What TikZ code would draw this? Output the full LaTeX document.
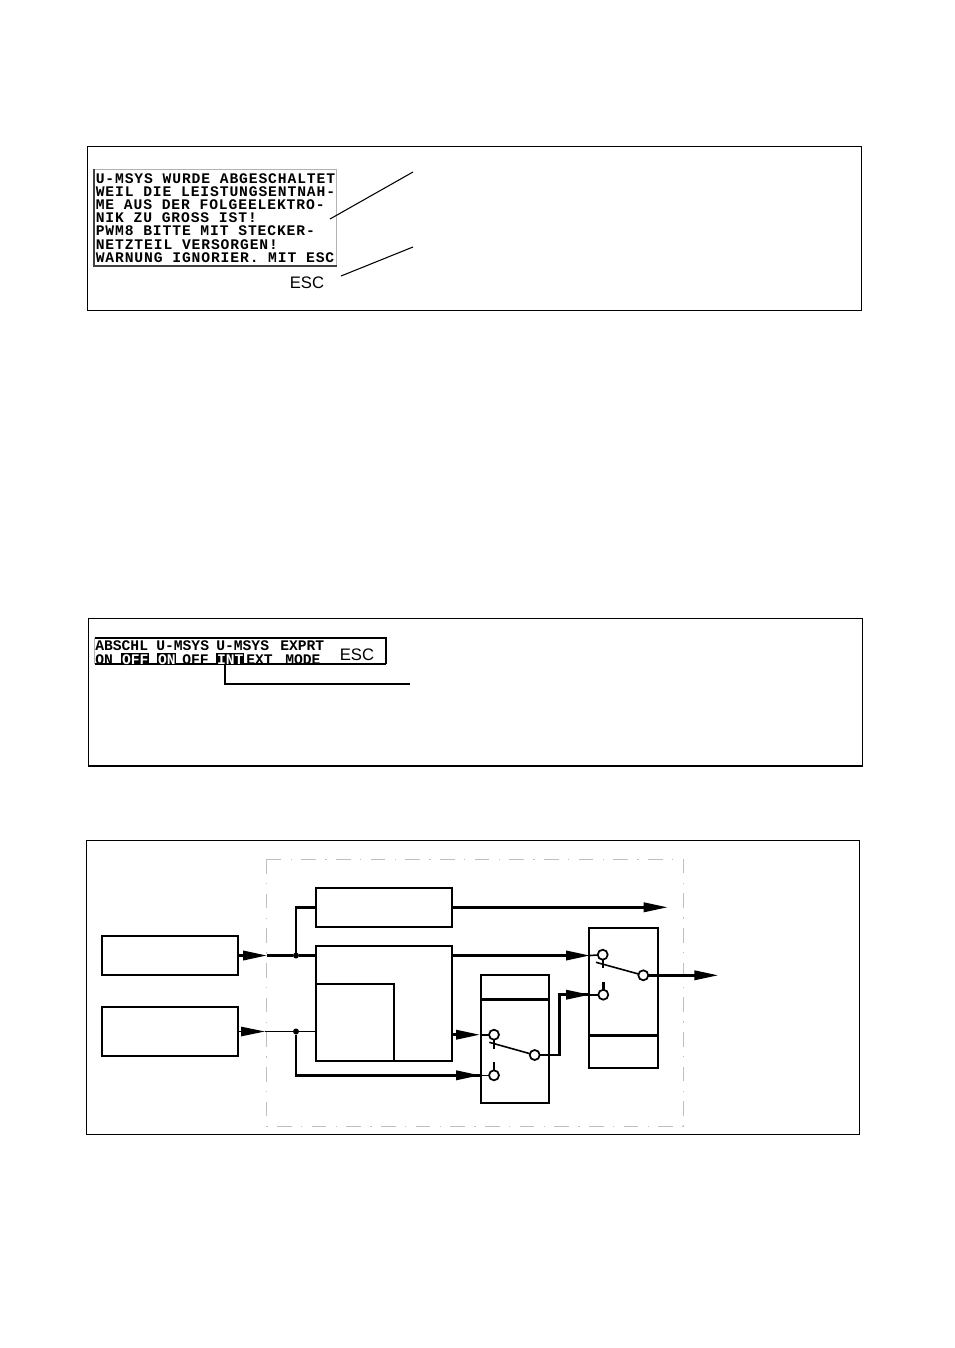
\documentclass[tikz,border=0pt]{standalone}
\usepackage{fontspec}
\setmainfont{Liberation Sans}
\newfontfamily\lcdface{Liberation Mono}
\newfontfamily\lcdwide[LetterSpace=6]{Liberation Mono}
\usetikzlibrary{arrows.meta}
\tikzset{
  frame/.style={draw,line width=.75pt},
  lcd/.style={font=\lcdface\bfseries\fontsize{11}{9.9}\selectfont,inner sep=0pt,anchor=base west},
  lcdinv/.style={lcd,fill=black,text=white,inner xsep=.6pt,inner ysep=.8pt},
  esc/.style={font=\fontsize{12.5}{12.5}\selectfont,inner sep=0pt},
  leader/.style={line width=.8pt},
  blockbox/.style={draw,line width=1.6pt,inner sep=0pt,outer sep=0pt},
  wire/.style={line width=1.9pt},
  flow/.style={wire,-{Triangle[length=18pt,width=7pt]}},
  thinflow/.style={line width=1.2pt,-{Triangle[length=18pt,width=7pt]}},
  contact/.style={circle,draw,fill=white,line width=1.3pt,minimum size=7.5pt,inner sep=0pt,outer sep=0pt},
  joint/.style={circle,fill=black,minimum size=4.5pt,inner sep=0pt,outer sep=0pt},
}
\begin{document}
\begin{tikzpicture}[x=.75pt,y=-.75pt]
  \useasboundingbox (0,0) rectangle (954,1348);
  % first display
  \draw(474.5,228.5) node[frame,minimum width=581pt,minimum height=122.6pt,inner sep=0pt] (warnframe) {};
  \draw[line width=.5pt,gray!60] (93.5,169) -- (336.7,169) -- (336.7,266);
  \draw[line width=1.5pt,black!75] (93.5,169) -- (93.5,266) -- (336.7,266);
  \node[lcd,font=\lcdwide\bfseries\fontsize{11}{9.9}\selectfont,anchor=north west,align=left] (warntext) at (95.5,173) {U-MSYS WURDE ABGESCHALTET\\WEIL DIE LEISTUNGSENTNAH-\\ME AUS DER FOLGEELEKTRO-\\NIK ZU GROSS IST!\\PWM8 BITTE MIT STECKER-\\NETZTEIL VERSORGEN!\\WARNUNG IGNORIER. MIT ESC};
  \node[esc] (warnesc) at (307,283) {ESC};
  \coordinate (warnA) at (413,172);
  \coordinate (warnB) at (330,219);
  \coordinate (warnC) at (413,247);
  \coordinate (warnD) at (341,276);
  \draw[leader] (warnA) -- (warnB);
  \draw[leader] (warnC) -- (warnD);

  % second display
  \draw(475,692) node[frame,minimum width=580.5pt,minimum height=111pt,inner sep=0pt] (modeframe) {};
  \draw[line width=1.4pt] (88,766) -- (862,766);
  \draw[line width=.5pt,gray!60] (94.5,638) -- (94.5,664);
  \draw[line width=1.3pt] (94.5,638) -- (386,638) -- (386,664);
  \draw[line width=.8pt] (94.5,664) -- (386,664);
  \node[lcd] (lab1) at (95,650) {ABSCHL};
  \node[lcd] (lab2) at (156,650) {U-MSYS};
  \node[lcd] (lab3) at (216,650) {U-MSYS};
  \node[lcd] (lab4) at (280,650) {EXPRT};
  \node[lcd] (on1) at (95,664) {ON};
  \node[lcdinv] (off1) at (121,664) {OFF};
  \node[lcdinv] (on2) at (157,664) {ON};
  \node[lcd] (off2) at (182,664) {OFF};
  \node[lcdinv] (int) at (216,664) {INT};
  \node[lcd] (ext) at (246,664) {EXT};
  \node[lcd] (mode) at (285,664) {MODE};
  \node[esc] (modeesc) at (357,655) {ESC};
  \coordinate (modeA) at (225,665);
  \coordinate (modeB) at (410,684);
  \draw[leader] (modeA) |- (modeB);

  % block diagram
  \draw(473.2,987.5) node[frame,minimum width=580pt,minimum height=220pt,inner sep=0pt] (blockframe) {};
  \draw[gray!50,line width=.7pt,dash pattern=on 11pt off 7pt on 1pt off 7pt] (266.7,859) rectangle (683,1126);
  \draw(170,955.5) node[blockbox,minimum width=102.5pt,minimum height=29.2pt] (in1) {};
  \draw(170,1031.5) node[blockbox,minimum width=102.5pt,minimum height=36.3pt] (in2) {};
  \draw(383.7,907.3) node[blockbox,minimum width=102pt,minimum height=29pt] (top) {};
  \draw(383.7,1003.2) node[blockbox,minimum width=102pt,minimum height=86.2pt] (main) {};
  \draw(354.7,1022.3) node[blockbox,minimum width=58.5pt,minimum height=57.5pt] (inner) {};
  \draw(514.9,1038.9) node[blockbox,minimum width=51.2pt,minimum height=95.8pt] (swA) {};
  \draw(623.5,998.3) node[blockbox,minimum width=51.3pt,minimum height=105pt] (swB) {};
  \draw[wire] (swA.west |- 0,999.3) -- (swA.east |- 0,999.3);
  \draw[wire] (swB.west |- 0,1035.3) -- (swB.east |- 0,1035.3);

  % wires
  \draw(296,955.5) node[joint] (j1) {};
  \draw(296,1031.5) node[joint] (j2) {};
  \coordinate (tip1) at (267,955.5);
  \coordinate (tip2) at (265,1031.5);
  \coordinate (tip3) at (667.7,907.3);
  \coordinate (mainE1) at (451.7,955.5);
  \coordinate (mainE2) at (451.7,1034.7);
  \coordinate (tip4) at (590,955.5);
  \coordinate (tip5) at (480,1034.7);
  \coordinate (tip6) at (480,1075.3);
  \coordinate (tip7) at (590,994.7);
  \coordinate (tip8) at (718.3,975.3);
  \coordinate (bendA) at (559.3,1055);
  \coordinate (bendB) at (559.3,994.7);
  \coordinate (lowA) at (296,1075.3);
  \coordinate (contA1) at (494,1034.7);
  \coordinate (contA2) at (494,1075.3);
  \coordinate (contA3) at (534.7,1055);
  \coordinate (contB1) at (602.7,954.7);
  \coordinate (contB2) at (603.3,994.7);
  \coordinate (contB3) at (643.3,975.3);
  \draw[flow] (in1.east) -- (tip1);
  \draw[wire] (tip1) -- (j1) -- (main.west |- j1);
  \draw[wire] (j1) |- (top.west);
  \draw[flow] (top.east) -- (tip3);
  \draw[flow] (mainE1) -- (tip4);
  \draw[line width=1.2pt] (tip4) -- (contB1);
  \draw[thinflow] (in2.east) -- (tip2);
  \draw[line width=1.2pt] (tip2) -- (j2) -- (main.west |- j2);
  \draw[wire] (j2) |- (lowA -| tip6);
  \draw[flow] (lowA) -- (tip6);
  \draw[line width=1.2pt] (tip6) -- (contA2);
  \draw[flow] (mainE2) -- (tip5);
  \draw[line width=1.2pt] (tip5) -- (contA1);
  \draw[wire] (contA3) -- (bendA) -- (bendB) -- (tip7);
  \draw[flow] (bendB) -- (tip7);
  \draw[line width=1.2pt] (tip7) -- (contB2);
  \draw[flow] (contB3) -- (tip8);

  % switches
  \coordinate (armA) at (489.3,1042.3);
  \coordinate (armB) at (596,962.3);
  \draw[line width=1.2pt] (contA3) -- (armA);
  \draw[line width=1.2pt] (contB3) -- (armB);
  \draw[line width=1.2pt] (contA1) -- +(0,14);
  \draw[line width=1.2pt] (contB1) -- +(0,13);
  \draw[wire] (contA2) -- +(0,-13);
  \draw[wire] (contB2) -- +(0,-13);
  \draw(contA1) node[contact] (a1) {};
  \draw(contA2) node[contact] (a2) {};
  \draw(contA3) node[contact] (a3) {};
  \draw(contB1) node[contact] (b1) {};
  \draw(contB2) node[contact] (b2) {};
  \draw(contB3) node[contact] (b3) {};
\end{tikzpicture}
\end{document}
